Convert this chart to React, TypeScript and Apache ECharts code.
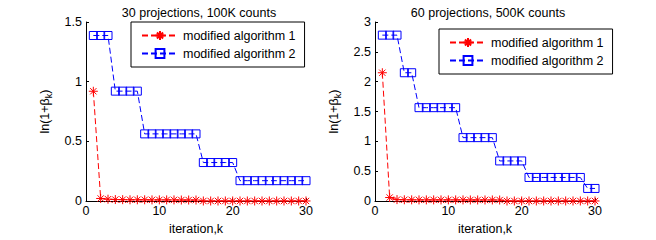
import React, { useEffect, useRef } from 'react';
import * as echarts from 'echarts';

const ITERATIONS = [1, 2, 3, 4, 5, 6, 7, 8, 9, 10, 11, 12, 13, 14, 15, 16, 17, 18, 19, 20, 21, 22, 23, 24, 25, 26, 27, 28, 29, 30];

const SERIES_NAMES = ['modified algorithm 1', 'modified algorithm 2'];
const TITLES = ['30 projections, 100K counts', '60 projections, 500K counts'];
const X_NAME = 'iteration,k';

// Left panel: 30 projections, 100K counts
const LEFT_ALG1 = [0.92, 0.022, 0.016, 0.013, 0.012, 0.011, 0.011, 0.011, 0.010, 0.010, 0.010, 0.010, 0.009, 0.009, 0.009,
  0.001, 0.001, 0.001, 0.001, 0.001, 0.001, 0.001, 0.001, 0.001, 0.001, 0.001, 0.001, 0.001, 0.001, 0.001];
const LEFT_ALG2 = [1.387, 1.387, 1.387, 0.921, 0.921, 0.921, 0.921, 0.563, 0.563, 0.563, 0.563, 0.563, 0.563, 0.563, 0.563,
  0.323, 0.323, 0.323, 0.323, 0.323, 0.171, 0.171, 0.171, 0.171, 0.171, 0.171, 0.171, 0.171, 0.171, 0.171];

// Right panel: 60 projections, 500K counts
const RIGHT_ALG1 = [2.15, 0.06, 0.025, 0.022, 0.021, 0.02, 0.02, 0.02, 0.02, 0.02, 0.02, 0.02, 0.019, 0.019, 0.019, 0.019, 0.018,
  0.002, 0.002, 0.002, 0.002, 0.002, 0.002, 0.002, 0.002, 0.002, 0.002, 0.002, 0.002, 0.002];
const RIGHT_ALG2 = [2.78, 2.78, 2.78, 2.15, 2.15, 1.565, 1.565, 1.565, 1.565, 1.565, 1.565, 1.063, 1.063, 1.063, 1.063, 1.063,
  0.673, 0.673, 0.673, 0.673, 0.396, 0.396, 0.396, 0.396, 0.396, 0.396, 0.396, 0.396, 0.212, 0.212];

const FONT = 'Liberation Sans, Arial, Helvetica, sans-serif';
const FS = 12.5;
const STAR = 'path://M5 0L5 10M0 5L10 5M1.5 1.5L8.5 8.5M1.5 8.5L8.5 1.5';

function xAxis(gridIndex: number) {
  return {
    type: 'value', gridIndex, min: 0, max: 30, interval: 10,
    name: X_NAME, nameLocation: 'middle', nameGap: 20,
    nameTextStyle: { color: '#000', fontSize: FS, fontFamily: FONT },
    axisLine: { lineStyle: { color: '#000', width: 1 } },
    axisTick: { inside: true, length: 3, lineStyle: { color: '#000' } },
    axisLabel: { color: '#000', fontSize: FS, fontFamily: FONT, margin: 3 },
    splitLine: { show: false },
  };
}

function yAxis(gridIndex: number, max: number) {
  return {
    type: 'value', gridIndex, min: 0, max, interval: 0.5,
    name: '{a|ln(1+β}{b|k}{a|)}', nameLocation: 'middle', nameGap: 33, nameRotate: 90,
    nameTextStyle: {
      color: '#000', fontSize: FS, fontFamily: FONT,
      rich: {
        a: { fontSize: FS, fontFamily: FONT, color: '#000', lineHeight: 16 },
        b: { fontSize: 9, fontFamily: FONT, color: '#000', lineHeight: 9, verticalAlign: 'bottom' },
      },
    },
    axisLine: { show: true, lineStyle: { color: '#000', width: 1 } },
    axisTick: { show: true, inside: true, length: 3, lineStyle: { color: '#000' } },
    axisLabel: { color: '#000', fontSize: FS, fontFamily: FONT, margin: 4 },
    splitLine: { show: false },
  };
}

function alg1(idx: number, values: number[]) {
  return {
    name: SERIES_NAMES[0], type: 'line', xAxisIndex: idx, yAxisIndex: idx,
    data: ITERATIONS.map((k, i) => [k, values[i]]),
    symbol: STAR, symbolSize: 9, clip: false, z: 4,
    lineStyle: { color: '#ff0000', width: 1, type: [6, 3] },
    itemStyle: { color: '#ff0000', borderColor: '#ff0000', borderWidth: 1 },
  };
}

function alg2(idx: number, values: number[]) {
  return {
    name: SERIES_NAMES[1], type: 'line', xAxisIndex: idx, yAxisIndex: idx,
    data: ITERATIONS.map((k, i) => [k, values[i]]),
    symbol: 'rect', symbolSize: 8, clip: false, z: 3,
    lineStyle: { color: '#0000ff', width: 1, type: [6, 3] },
    itemStyle: { color: 'rgba(0,0,0,0)', borderColor: '#0000ff', borderWidth: 1 },
  };
}

function legend(left: number, top: number) {
  return {
    data: SERIES_NAMES, orient: 'vertical', left, top,
    itemWidth: 36, itemHeight: 11, itemGap: 5,
    padding: [7, 9, 7, 10],
    borderColor: '#000', borderWidth: 1, backgroundColor: '#fff',
    textStyle: { color: '#000', fontSize: FS, fontFamily: FONT, lineHeight: 13 },
    selectedMode: false,
  };
}

export default function App() {
  const ref = useRef<HTMLDivElement>(null);
  useEffect(() => {
    const chart = echarts.init(ref.current!, null, { renderer: 'svg' });
    chart.setOption({
      animation: false,
      backgroundColor: '#fff',
      title: [
        { text: TITLES[0], left: 194, top: 1, textAlign: 'center', textStyle: { color: '#000', fontSize: FS, fontWeight: 'normal', fontFamily: FONT } },
        { text: TITLES[1], left: 483, top: 1, textAlign: 'center', textStyle: { color: '#000', fontSize: FS, fontWeight: 'normal', fontFamily: FONT } },
      ],
      grid: [
        { left: 86, right: 350, top: 22, bottom: 38 },
        { left: 375, right: 61, top: 22, bottom: 38 },
      ],
      xAxis: [xAxis(0), xAxis(1)],
      yAxis: [yAxis(0, 1.5), yAxis(1, 3)],
      legend: [legend(131, 22), legend(439, 29)],
      series: [alg1(0, LEFT_ALG1), alg2(0, LEFT_ALG2), alg1(1, RIGHT_ALG1), alg2(1, RIGHT_ALG2)],
    });
    return () => chart.dispose();
  }, []);
  return <div ref={ref} style={{ position: 'fixed', left: 0, top: 0, width: 656, height: 240 }} />;
}
